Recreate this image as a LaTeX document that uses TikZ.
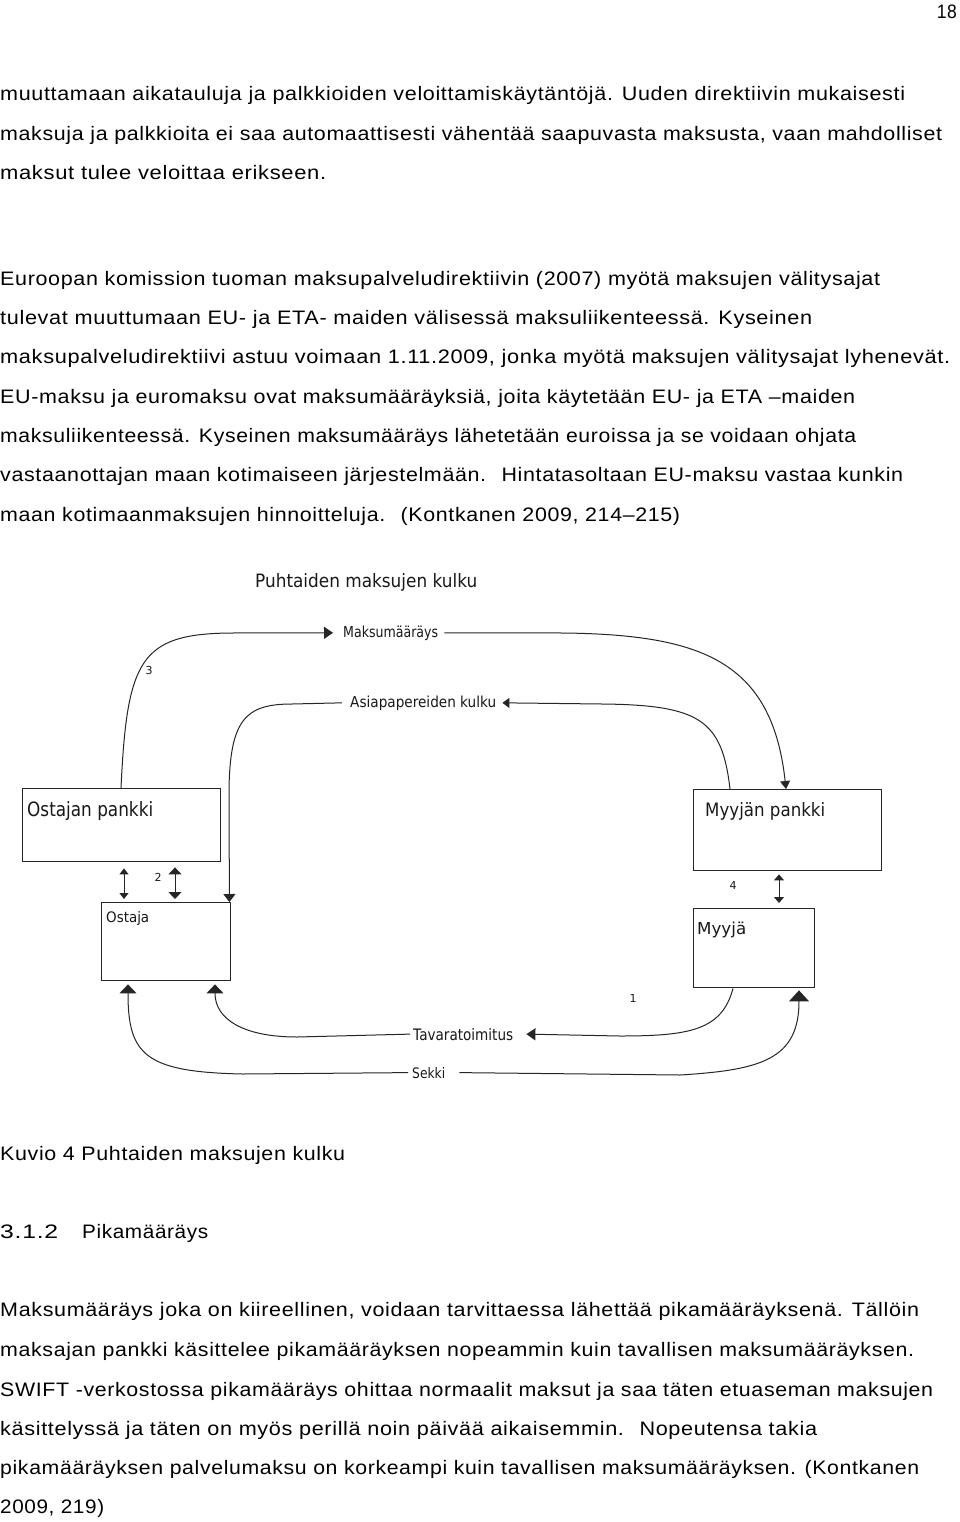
\documentclass[tikz,border=0pt]{standalone}
\usepackage{fontspec}
\usepackage{graphicx}
\usetikzlibrary{arrows.meta}
\newfontfamily\bodyfont{Liberation Sans}[LetterSpace=3]
\newfontfamily\labfont{DejaVu Sans}
\newcommand\fitw[2]{\resizebox{#1pt}{\height}{#2}}
\newcommand\fitwh[3]{\resizebox{#1pt}{#2pt}{#3}}
\tikzset{
  body/.style={font={\bodyfont\fontsize{19.5}{22}\selectfont}, anchor=base west, inner sep=0pt, text=black},
  lab/.style={font={\labfont\fontsize{14}{16}\selectfont}, anchor=base west, inner sep=0pt, text=black!90},
  num/.style={font={\labfont\fontsize{11}{12}\selectfont}, inner sep=0pt, text=black!90},
  box/.style={draw=black!85, line width=1.4pt, fill=white},
  conn/.style={draw=black!85, line width=1pt},
}
\begin{document}
\begin{tikzpicture}[x=1pt,y=-1pt]
\fill[white] (0,0) rectangle (960,1522);
\useasboundingbox (0,0) rectangle (960,1522);

% page number
\node[body, anchor=base east] (pg) at (957,19) {\fitw{20}{18}};

% paragraph 1
\node[body] (l1) at (0,101) {\fitw{905}{muuttamaan aikatauluja ja palkkioiden veloittamiskäytäntöjä. Uuden direktiivin mukaisesti}};
\node[body] (l2) at (0,141) {\fitw{942}{maksuja ja palkkioita ei saa automaattisesti vähentää saapuvasta maksusta, vaan mahdolliset}};
\node[body] (l3) at (0,180) {\fitw{326}{maksut tulee veloittaa erikseen.}};

% paragraph 2
\node[body] (l4) at (0,285) {\fitw{880}{Euroopan komission tuoman maksupalveludirektiivin (2007) myötä maksujen välitysajat}};
\node[body] (l5) at (0,324) {\fitw{812}{tulevat muuttumaan EU- ja ETA- maiden välisessä maksuliikenteessä. Kyseinen}};
\node[body] (l6) at (0,363) {\fitw{950}{maksupalveludirektiivi astuu voimaan 1.11.2009, jonka myötä maksujen välitysajat lyhenevät.}};
\node[body] (l7) at (0,403) {\fitw{855}{EU-maksu ja euromaksu ovat maksumääräyksiä, joita käytetään EU- ja ETA –maiden}};
\node[body] (l8) at (0,442) {\fitw{856}{maksuliikenteessä. Kyseinen maksumääräys lähetetään euroissa ja se voidaan ohjata}};
\node[body] (l9) at (0,481) {\fitw{903}{vastaanottajan maan kotimaiseen järjestelmään.~ Hintatasoltaan EU-maksu vastaa kunkin}};
\node[body] (l10) at (0,521) {\fitw{680}{maan kotimaanmaksujen hinnoitteluja.~ (Kontkanen 2009, 214–215)}};

% diagram
\node[lab] (title) at (255,587) {\fitwh{222}{14}{Puhtaiden maksujen kulku}};

\node[box, minimum width=198pt, minimum height=73pt, anchor=north west] (opank) at (22,788) {};
\node[box, minimum width=188pt, minimum height=81pt, anchor=north west] (mpank) at (693,789) {};
\node[box, minimum width=129pt, minimum height=78pt, anchor=north west] (ostaja) at (101,902) {};
\node[box, minimum width=121pt, minimum height=79pt, anchor=north west] (myyja) at (693,908) {};

\node[lab] (topank) at (27,816) {\fitwh{126}{15}{Ostajan pankki}};
\node[lab] (tmpank) at (705,816) {\fitwh{120}{14}{Myyjän pankki}};
\node[lab] (tostaja) at (106,922) {\fitwh{43}{11}{Ostaja}};
\node[lab] (tmyyja) at (697,934) {\fitwh{49}{12.5}{Myyjä}};

\node[lab] (maks) at (343,637) {\fitwh{95}{11.5}{Maksumääräys}};
\node[lab] (asia) at (350,707) {\fitwh{146}{11.5}{Asiapapereiden kulku}};
\node[lab] (tava) at (413,1040) {\fitwh{100}{12}{Tavaratoimitus}};
\node[lab] (sekki) at (412,1078) {\fitwh{33}{11}{Sekki}};

\node[num] (n3) at (149,670) {3};
\node[num] (n2) at (158,877) {2};
\node[num] (n4) at (733,885) {4};
\node[num] (n1) at (633,998) {1};

% Maksumaarays
\draw[conn,-{Triangle[length=9pt,width=12pt]}] ([xshift=99pt]opank.north west) .. controls (127,660) and (140,634) .. (230,633) -- ([xshift=-10pt]maks.west);
\draw[conn,-{Triangle[length=8pt,width=10pt]}] ([xshift=6pt]maks.east) -- (565,633) .. controls (700,635) and (772,660) .. ([xshift=93pt]mpank.north west);

% Asiapapereiden kulku
\draw[conn,-{Triangle[length=7pt,width=10pt]}] ([xshift=37pt]mpank.north west) .. controls (722,720) and (700,705) .. (602,704) -- ([xshift=6pt]asia.east);
\draw[conn,-{Triangle[length=8pt,width=12pt]}] ([xshift=-8pt]asia.west) -- (292,704) .. controls (245,704) and (230,720) .. (229,790) -- ([xshift=-2pt]ostaja.north east);

% double arrows
\draw[conn,{Triangle[length=6pt,width=9pt]}-{Triangle[length=6pt,width=9pt]}] ([xshift=102pt,yshift=-6pt]opank.south west) -- ([xshift=23pt,yshift=3pt]ostaja.north west);
\draw[conn,{Triangle[length=7pt,width=13pt]}-{Triangle[length=7pt,width=13pt]}] ([xshift=153pt,yshift=-5pt]opank.south west) -- ([xshift=74pt,yshift=3pt]ostaja.north west);
\draw[conn,{Triangle[length=6pt,width=10pt]}-{Triangle[length=6pt,width=10pt]}] ([xshift=86pt,yshift=-3pt]mpank.south west) -- ([xshift=86pt,yshift=5pt]myyja.north west);

% Tavaratoimitus
\draw[conn,-{Triangle[length=9pt,width=12pt]}] ([xshift=40pt]myyja.south west) .. controls (722,1030) and (690,1036) .. (620,1036) -- ([xshift=13pt]tava.east);
\draw[conn,-{Triangle[length=9pt,width=17pt]}] ([xshift=-3pt]tava.west) -- (297,1037) .. controls (245,1037) and (215,1020) .. ([xshift=114pt,yshift=-3pt]ostaja.south west);

% Sekki
\draw[conn,-{Triangle[length=9pt,width=17pt]}] ([xshift=-4pt]sekki.west) -- (243,1074) .. controls (145,1072) and (128,1055) .. ([xshift=27pt,yshift=-3pt]ostaja.south west);
\draw[conn,-{Triangle[length=11pt,width=20pt]}] ([xshift=14pt]sekki.east) -- (680,1075) .. controls (760,1070) and (799,1060) .. ([xshift=106pt,yshift=-2pt]myyja.south west);

% caption and heading
\node[body] (cap) at (0,1160) {\fitw{345}{Kuvio 4 Puhtaiden maksujen kulku}};
\node[body] (hnum) at (0,1238) {\fitw{58}{3.1.2}};
\node[body] (htxt) at (82,1238) {\fitw{126}{Pikamääräys}};

% paragraph 3
\node[body] (l11) at (0,1316) {\fitw{919}{Maksumääräys joka on kiireellinen, voidaan tarvittaessa lähettää pikamääräyksenä. Tällöin}};
\node[body] (l12) at (0,1356) {\fitw{914}{maksajan pankki käsittelee pikamääräyksen nopeammin kuin tavallisen maksumääräyksen.}};
\node[body] (l13) at (0,1396) {\fitw{933}{SWIFT -verkostossa pikamääräys ohittaa normaalit maksut ja saa täten etuaseman maksujen}};
\node[body] (l14) at (0,1435) {\fitw{817}{käsittelyssä ja täten on myös perillä noin päivää aikaisemmin.~ Nopeutensa takia}};
\node[body] (l15) at (0,1474) {\fitw{919}{pikamääräyksen palvelumaksu on korkeampi kuin tavallisen maksumääräyksen. (Kontkanen}};
\node[body] (l16) at (0,1513) {\fitw{104}{2009, 219)}};
\end{tikzpicture}
\end{document}
